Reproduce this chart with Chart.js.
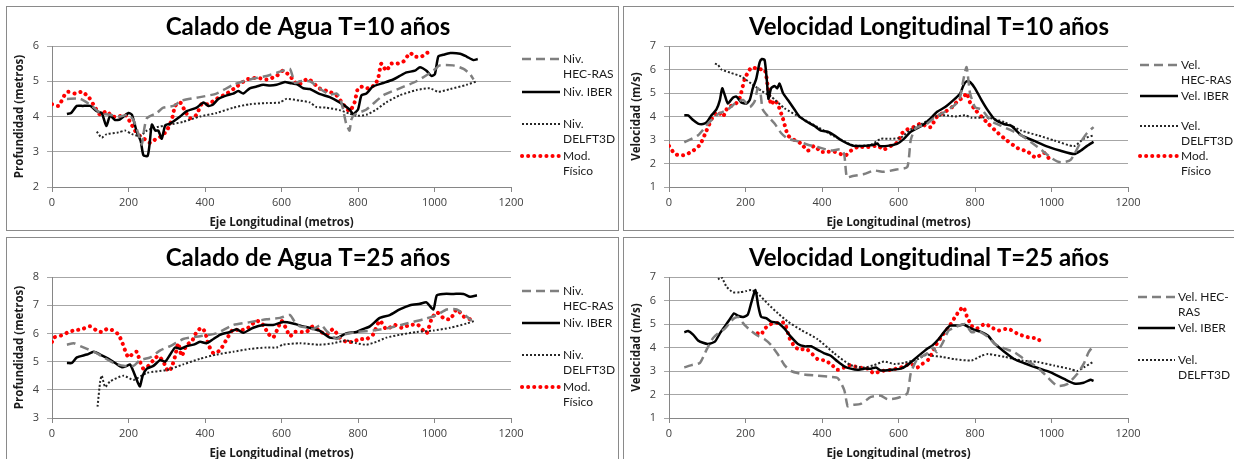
<!DOCTYPE html>
<html>
<head>
<meta charset="utf-8">
<script src="https://cdn.jsdelivr.net/npm/chart.js@4.4.1/dist/chart.umd.min.js"></script>
<style>
  body { margin: 0; background: #fff; width: 1234px; height: 459px; overflow: hidden; position: relative; }
  .panel { position: absolute; border: 1px solid #8a8a8a; background: #fff; }
  .panel canvas { display: block; }
</style>
</head>
<body>
<div class="panel" style="left:6px; top:6px; width:611px; height:223px;"><canvas id="c10" width="611" height="223"></canvas></div>
<div class="panel" style="left:623px; top:6px; width:620px; height:223px;"><canvas id="v10" width="620" height="223"></canvas></div>
<div class="panel" style="left:6px; top:237px; width:611px; height:230px;"><canvas id="c25" width="611" height="223"></canvas></div>
<div class="panel" style="left:623px; top:237px; width:620px; height:230px;"><canvas id="v25" width="620" height="223"></canvas></div>
<script>
// ---- data: [distancia (m), valor] ----
const calado10Hec = [[39,4.5],[74,4.5],[104,4.3],[126,4.1],[152,4.05],[178,4.0],[200,4.05],[213,3.9],[226,3.5],[235,3.2],[239,3.5],[248,3.95],[274,4.1],[291,4.25],[317,4.3],[339,4.45],[387,4.55],[430,4.65],[474,4.9],[517,5.05],[561,5.15],[604,5.3],[622,5.35],[635,4.95],[648,5.0],[674,5.0],[699,4.8],[726,4.62],[744,4.65],[752,4.55],[761,4.2],[769,3.8],[778,3.6],[782,3.9],[791,4.05],[822,4.2],[866,4.6],[909,4.8],[953,5.0],[997,5.3],[1014,5.45],[1049,5.45],[1076,5.35],[1093,5.2],[1102,5.05]];
const calado10Iber = [[39,4.07],[50,4.1],[65,4.3],[80,4.3],[100,4.3],[117,4.15],[130,4.1],[142,3.73],[152,4.02],[165,3.9],[178,3.92],[200,4.1],[209,4.05],[222,3.55],[232,3.3],[239,2.9],[250,2.88],[255,3.2],[261,3.77],[270,3.6],[278,3.6],[287,3.37],[296,3.75],[309,3.8],[335,4.0],[352,4.15],[378,4.25],[396,4.4],[409,4.3],[422,4.35],[435,4.5],[457,4.6],[474,4.65],[487,4.72],[500,4.65],[517,4.8],[535,4.85],[552,4.9],[570,4.88],[587,4.9],[609,4.98],[622,4.95],[643,4.9],[657,4.8],[674,4.78],[699,4.64],[726,4.55],[752,4.4],[778,4.2],[787,4.07],[800,4.2],[809,4.6],[822,4.65],[839,4.85],[866,4.95],[892,5.05],[909,5.15],[927,5.25],[949,5.3],[962,5.4],[979,5.3],[992,5.15],[1001,5.2],[1010,5.7],[1023,5.75],[1041,5.8],[1067,5.78],[1084,5.7],[1102,5.6],[1113,5.63]];
const calado10Delft = [[117,3.57],[130,3.4],[143,3.5],[174,3.55],[191,3.6],[209,3.5],[230,3.45],[248,3.6],[274,3.7],[300,3.75],[343,3.85],[387,4.0],[430,4.1],[474,4.25],[517,4.35],[561,4.38],[596,4.4],[613,4.5],[648,4.45],[674,4.4],[691,4.27],[717,4.25],[752,4.18],[778,4.08],[796,4.02],[822,4.05],[848,4.2],[874,4.4],[909,4.6],[953,4.75],[988,4.8],[1010,4.7],[1041,4.78],[1084,4.9],[1111,5.0]];
const calado10Fisico = [[0,4.35],[17,4.3],[35,4.65],[43,4.7],[61,4.65],[78,4.7],[96,4.55],[113,4.25],[126,4.05],[143,4.15],[157,4.0],[174,4.0],[191,4.05],[204,3.85],[217,3.6],[230,3.45],[243,3.35],[257,3.25],[270,3.35],[287,3.45],[300,3.6],[313,3.9],[322,4.3],[335,4.4],[348,4.15],[361,3.95],[378,4.05],[391,4.35],[409,4.35],[430,4.5],[457,4.65],[483,4.85],[509,5.05],[535,5.1],[561,5.05],[587,5.15],[604,5.3],[622,5.15],[643,4.9],[665,5.05],[673,5.05],[699,4.8],[726,4.7],[744,4.6],[761,4.35],[778,4.15],[791,4.4],[800,4.8],[813,4.85],[826,4.8],[844,4.9],[853,5.1],[861,5.5],[874,5.3],[887,5.5],[901,5.5],[918,5.55],[936,5.8],[949,5.7],[966,5.7],[979,5.8],[997,5.85]];

const vel10Hec = [[40,2.9],[76,3.2],[102,3.7],[128,4.1],[154,4.3],[176,4.6],[194,4.7],[211,4.4],[224,4.65],[232,5.2],[239,5.0],[245,4.3],[259,4.0],[276,3.7],[293,3.3],[311,3.05],[337,2.95],[363,2.8],[389,2.7],[423,2.55],[449,2.6],[458,2.4],[465,1.4],[476,1.45],[510,1.55],[536,1.7],[562,1.65],[597,1.75],[623,1.85],[632,3.0],[645,3.5],[675,3.7],[697,4.0],[722,4.2],[748,4.5],[760,4.75],[770,5.6],[778,6.1],[787,5.0],[800,4.4],[817,4.3],[843,3.8],[869,3.6],[921,3.2],[964,2.7],[1003,2.2],[1024,2.05],[1050,2.15],[1076,2.9],[1093,3.3],[1110,3.55]];
const vel10Iber = [[40,4.05],[50,4.05],[63,3.85],[76,3.7],[89,3.68],[98,3.75],[111,4.05],[124,4.3],[133,4.7],[139,5.2],[146,4.9],[154,4.55],[167,4.8],[176,4.85],[189,4.6],[202,4.55],[211,4.7],[219,5.2],[228,5.6],[237,6.3],[243,6.45],[250,6.4],[256,5.5],[260,4.75],[267,5.2],[276,5.3],[283,5.2],[289,5.4],[298,5.0],[311,4.7],[328,4.3],[341,4.0],[358,3.8],[380,3.6],[397,3.4],[415,3.35],[432,3.2],[449,3.0],[467,2.85],[484,2.75],[510,2.75],[536,2.8],[545,2.85],[550,2.75],[571,2.75],[597,2.85],[614,3.05],[632,3.35],[662,3.62],[679,3.84],[701,4.2],[722,4.4],[748,4.76],[761,4.97],[770,5.33],[778,5.5],[787,5.47],[800,5.2],[817,4.7],[834,4.25],[852,3.87],[877,3.67],[895,3.6],[921,3.2],[955,2.96],[990,2.72],[1024,2.54],[1059,2.4],[1076,2.54],[1093,2.75],[1110,2.92]];
const vel10Delft = [[120,6.25],[128,6.2],[137,6.0],[163,5.85],[189,5.7],[215,5.4],[241,5.1],[267,4.85],[302,4.35],[345,3.95],[389,3.55],[432,3.15],[458,2.95],[476,2.8],[501,2.75],[528,2.8],[554,3.05],[580,3.05],[606,3.1],[632,3.45],[662,3.7],[697,4.0],[722,4.05],[748,4.0],[774,4.05],[791,3.95],[834,3.95],[877,3.76],[921,3.4],[964,3.2],[1007,2.98],[1059,2.74],[1084,3.05],[1110,3.2]];
const vel10Fisico = [[0,2.75],[16,2.4],[37,2.35],[59,2.5],[81,2.8],[98,3.4],[115,4.0],[128,4.2],[141,4.0],[154,4.4],[172,4.5],[185,4.8],[198,5.6],[211,6.0],[219,6.1],[232,6.0],[250,6.0],[259,5.2],[267,4.5],[276,4.7],[285,4.5],[298,3.9],[311,3.2],[328,3.0],[345,2.85],[363,2.55],[380,2.75],[397,2.5],[415,2.5],[432,2.5],[449,2.4],[462,2.35],[476,2.55],[493,2.7],[519,2.7],[545,2.75],[562,2.6],[580,2.75],[597,2.9],[610,3.3],[623,3.45],[640,3.55],[658,3.7],[671,3.6],[684,3.55],[701,4.0],[722,4.2],[740,4.4],[757,4.7],[770,4.8],[778,5.0],[787,4.6],[800,4.3],[817,4.0],[834,3.7],[860,3.3],[882,3.0],[912,2.65],[938,2.5],[959,2.25],[981,2.45],[994,2.2]];

const calado25Hec = [[39,5.6],[57,5.65],[74,5.55],[109,5.35],[135,5.15],[161,4.95],[187,4.85],[213,4.85],[230,5.05],[257,5.15],[283,5.4],[309,5.55],[343,5.8],[387,5.9],[430,6.0],[474,6.3],[517,6.4],[561,6.5],[596,6.55],[622,6.65],[635,6.4],[648,6.25],[674,6.2],[682,6.15],[704,6.3],[717,6.1],[744,5.8],[761,5.95],[796,6.05],[839,6.1],[883,6.2],[927,6.35],[971,6.5],[1006,6.65],[1032,6.85],[1058,6.85],[1084,6.6],[1097,6.45]];
const calado25Iber = [[39,4.95],[52,4.95],[65,5.15],[91,5.25],[109,5.35],[126,5.25],[148,5.1],[165,4.95],[183,4.8],[196,4.85],[204,4.9],[213,4.65],[223,4.3],[230,4.12],[237,4.5],[248,4.75],[265,4.85],[283,5.05],[296,5.0],[309,5.25],[322,5.5],[335,5.45],[352,5.55],[370,5.6],[387,5.7],[404,5.65],[422,5.8],[439,5.95],[465,6.05],[483,6.15],[500,6.02],[526,6.2],[552,6.3],[578,6.3],[604,6.4],[630,6.35],[657,6.25],[673,6.2],[699,6.1],[726,5.85],[748,5.85],[769,6.0],[796,6.05],[813,6.15],[831,6.25],[857,6.55],[883,6.65],[909,6.85],[936,7.0],[962,7.05],[979,7.1],[997,6.85],[1006,7.35],[1023,7.4],[1050,7.4],[1076,7.4],[1093,7.3],[1111,7.35]];
const calado25Delft = [[119,3.4],[126,4.3],[130,4.5],[139,4.1],[152,4.3],[187,4.5],[213,4.35],[248,4.6],[300,4.7],[343,4.9],[387,5.1],[430,5.25],[474,5.35],[517,5.45],[561,5.5],[587,5.5],[604,5.6],[648,5.65],[699,5.6],[735,5.65],[769,5.75],[796,5.65],[822,5.6],[848,5.7],[874,5.85],[909,5.95],[953,6.05],[997,6.1],[1041,6.2],[1084,6.35],[1106,6.45]];
const calado25Fisico = [[0,5.7],[4,5.85],[17,5.9],[30,5.95],[43,6.05],[57,6.1],[78,6.15],[100,6.25],[117,6.1],[130,6.05],[143,6.15],[161,6.1],[174,5.95],[183,5.7],[191,5.4],[200,5.15],[213,5.3],[222,5.35],[230,5.0],[239,4.75],[252,4.85],[265,5.05],[278,5.2],[291,5.0],[304,4.65],[313,4.8],[322,5.2],[330,5.65],[339,5.2],[352,5.6],[365,5.7],[378,6.05],[391,6.2],[400,6.05],[409,5.6],[422,5.3],[439,5.4],[457,5.8],[474,6.15],[491,6.1],[513,6.2],[535,6.45],[552,6.3],[565,6.0],[578,5.85],[591,6.2],[600,6.45],[613,6.15],[622,5.9],[635,6.05],[652,6.05],[665,6.05],[682,6.25],[699,6.1],[717,5.95],[735,6.15],[752,5.85],[769,5.7],[787,5.7],[804,5.8],[822,5.8],[839,5.95],[857,6.45],[874,6.15],[896,6.3],[914,6.2],[936,6.3],[957,6.3],[979,6.0],[992,6.5],[1006,6.75],[1023,6.55],[1041,6.5],[1058,6.85],[1076,6.6],[1093,6.5]];

const vel25Hec = [[40,3.15],[59,3.25],[81,3.35],[98,3.9],[115,4.4],[128,4.6],[146,4.8],[167,5.2],[180,5.3],[198,4.95],[215,4.7],[232,4.5],[250,4.35],[267,4.1],[285,3.7],[302,3.25],[319,3.0],[354,2.85],[389,2.8],[423,2.75],[441,2.7],[458,2.2],[467,1.5],[475,1.55],[501,1.6],[528,1.9],[554,1.95],[571,1.8],[597,1.85],[623,2.05],[632,2.9],[649,3.5],[675,3.75],[690,4.0],[700,3.8],[714,4.15],[731,4.72],[748,4.86],[774,5.0],[791,4.65],[809,4.7],[834,4.45],[852,4.15],[878,3.95],[903,3.8],[929,3.5],[964,3.15],[990,2.73],[1015,2.37],[1041,2.44],[1067,2.87],[1084,3.3],[1097,3.8],[1106,4.0]];
const vel25Iber = [[40,4.65],[50,4.7],[63,4.55],[76,4.3],[89,4.2],[102,4.15],[120,4.25],[133,4.6],[146,4.9],[159,5.2],[170,5.45],[180,5.35],[194,5.3],[206,5.4],[215,5.9],[226,6.45],[233,5.8],[241,5.3],[254,5.25],[267,5.1],[285,5.05],[302,4.8],[319,4.45],[337,4.15],[354,4.05],[371,4.05],[389,3.9],[406,3.75],[423,3.65],[441,3.4],[458,3.2],[475,3.1],[493,3.05],[510,3.1],[528,3.1],[541,3.15],[554,3.02],[580,3.05],[606,3.1],[623,3.25],[649,3.6],[675,3.95],[688,4.08],[705,4.36],[722,4.72],[735,4.93],[757,4.93],[770,4.98],[791,4.8],[817,4.65],[834,4.5],[852,4.15],[878,3.8],[903,3.5],[929,3.33],[964,3.13],[998,2.94],[1033,2.66],[1059,2.47],[1084,2.5],[1102,2.63],[1110,2.58]];
const vel25Delft = [[128,6.9],[137,7.0],[150,6.6],[167,6.35],[185,6.35],[202,6.4],[215,6.45],[232,6.3],[259,5.85],[285,5.45],[311,5.1],[345,4.75],[389,4.35],[432,3.75],[475,3.25],[510,3.15],[536,3.25],[562,3.4],[589,3.3],[615,3.35],[649,3.5],[675,3.7],[688,3.65],[714,3.6],[748,3.5],[791,3.45],[817,3.65],[834,3.72],[878,3.6],[921,3.45],[964,3.38],[1007,3.23],[1050,3.08],[1067,3.0],[1084,3.15],[1110,3.4]];
const vel25Fisico = [[232,4.6],[241,4.55],[250,4.8],[267,5.0],[285,5.05],[302,5.05],[315,4.4],[328,4.05],[341,3.9],[358,3.95],[376,3.7],[389,3.5],[406,3.45],[423,3.3],[441,3.05],[458,3.15],[475,3.25],[493,3.15],[519,3.1],[536,2.9],[554,3.0],[580,3.05],[606,3.15],[632,3.3],[649,3.15],[662,3.3],[679,3.5],[697,4.08],[714,4.5],[731,4.86],[748,5.3],[761,5.6],[770,5.72],[778,5.36],[791,4.93],[804,4.8],[826,5.0],[843,4.86],[860,4.72],[886,4.8],[912,4.58],[938,4.44],[964,4.37],[977,4.15]];

// legend texts (line breaks as in the original)
const legendCalado = [['Niv.', 'HEC-RAS'], ['Niv. IBER'], ['Niv.', 'DELFT3D'], ['Mod.', 'Físico']];
const legendVel10 = [['Vel.', 'HEC-RAS'], ['Vel. IBER'], ['Vel.', 'DELFT3D'], ['Mod.', 'Físico']];
const legendVel25 = [['Vel. HEC-', 'RAS'], ['Vel. IBER'], ['Vel.', 'DELFT3D']];
const xTicks = [0, 200, 400, 600, 800, 1000, 1200];

const FONT = 'Lato, "Open Sans", sans-serif';
const AXFONT = '"Open Sans", Lato, sans-serif';

/* series styles: hec, iber, delft, fisico */
const styles = [
    { borderColor: '#7f7f7f', borderWidth: 2.5, borderDash: [9, 5] },
    { borderColor: '#000000', borderWidth: 2.5 },
    { borderColor: '#262626', borderWidth: 2, borderDash: [2, 2] },
    { borderColor: '#ff0000', borderWidth: 4, borderDash: [0.1, 6], borderCapStyle: 'round' }
];

const panelTitle = {
    id: 'panelTitle',
    afterDraw(chart, args, opts) {
        const ctx = chart.ctx;
        ctx.save();
        ctx.font = 'bold 24px ' + FONT;
        ctx.fillStyle = '#000';
        ctx.textAlign = 'center';
        ctx.textBaseline = 'middle';
        ctx.fillText(opts.text, opts.x, opts.y);
        ctx.restore();
    }
};

const sideLegend = {
    id: 'sideLegend',
    afterDraw(chart, args, opts) {
        const ctx = chart.ctx;
        ctx.save();
        ctx.font = '12px ' + FONT;
        ctx.fillStyle = '#1a1a1a';
        ctx.textBaseline = 'middle';
        opts.texts.forEach((lines, i) => {
            const ds = chart.data.datasets[i];
            const y = opts.ys[i];
            ctx.beginPath();
            ctx.strokeStyle = ds.borderColor;
            ctx.lineWidth = ds.borderWidth;
            ctx.setLineDash(ds.borderDash || []);
            ctx.lineCap = ds.borderCapStyle || 'butt';
            ctx.moveTo(opts.x0, y);
            ctx.lineTo(opts.x1, y);
            ctx.stroke();
            ctx.setLineDash([]);
            lines.forEach((t, k) => ctx.fillText(t, opts.x1 + 3, y + k * 15));
        });
        ctx.restore();
    }
};

function toPoints(arr) {
    return arr.map(p => ({ x: p[0], y: p[1] }));
}

function makeChart(id, title, titleX, series, names, yMin, yMax, yTitle, legend) {
    const ctx = document.getElementById(id);
    const datasets = series.map((s, i) => Object.assign({
        label: names[i].join(' '),
        data: toPoints(s),
        pointRadius: 0,
        tension: 0.2,
        fill: false
    }, styles[i]));
    new Chart(ctx, {
        type: 'line',
        data: { datasets: datasets },
        options: {
            responsive: false,
            animation: false,
            layout: { padding: { top: 39, right: ctx.width - 504, bottom: 0, left: 0 } },
            plugins: {
                legend: { display: false },
                tooltip: { enabled: false },
                panelTitle: { text: title, x: titleX, y: 20 },
                sideLegend: legend
            },
            scales: {
                x: {
                    type: 'linear', min: 0, max: 1200,
                    afterBuildTicks: s => { s.ticks = xTicks.map(v => ({ value: v })); },
                    ticks: { padding: 4, font: { family: AXFONT, size: 11 }, color: '#404040', callback: v => String(v) },
                    grid: { drawOnChartArea: false, tickLength: 5, color: '#868686' },
                    border: { color: '#868686' },
                    title: { display: true, text: 'Eje Longitudinal (metros)', font: { family: AXFONT, size: 11.5, weight: 'bold' }, color: '#1a1a1a', padding: { top: 0, bottom: 0 } },
                    afterFit: s => { s.height = ctx.height - 180; }
                },
                y: {
                    min: yMin, max: yMax,
                    ticks: { stepSize: 1, padding: 8, font: { family: AXFONT, size: 11 }, color: '#404040' },
                    grid: { tickLength: 5, color: '#a6a6a6' },
                    border: { color: '#868686' },
                    title: { display: true, text: yTitle, font: { family: AXFONT, size: 11.5, weight: 'bold' }, color: '#1a1a1a', padding: { top: 6, bottom: 0 } },
                    afterFit: s => { s.width = 45; }
                }
            }
        },
        plugins: [panelTitle, sideLegend]
    });
}

makeChart('c10', 'Calado de Agua T=10 años', 301,
    [calado10Hec, calado10Iber, calado10Delft, calado10Fisico], legendCalado, 2, 6, 'Profundidad (metros)',
    { x0: 515, x1: 553, ys: [52, 85, 117, 149], texts: legendCalado });

makeChart('v10', 'Velocidad Longitudinal T=10 años', 305,
    [vel10Hec, vel10Iber, vel10Delft, vel10Fisico], legendVel10, 1, 7, 'Velocidad (m/s)',
    { x0: 516, x1: 554, ys: [58, 89, 119, 149], texts: legendVel10 });

makeChart('c25', 'Calado de Agua T=25 años', 301,
    [calado25Hec, calado25Iber, calado25Delft, calado25Fisico], legendCalado, 3, 8, 'Profundidad (metros)',
    { x0: 515, x1: 553, ys: [53, 85, 117, 149], texts: legendCalado });

makeChart('v25', 'Velocidad Longitudinal T=25 años', 305,
    [vel25Hec, vel25Iber, vel25Delft, vel25Fisico], legendVel10, 1, 7, 'Velocidad (m/s)',
    { x0: 514, x1: 551, ys: [59, 90, 122], texts: legendVel25 });
</script>
</body>
</html>
